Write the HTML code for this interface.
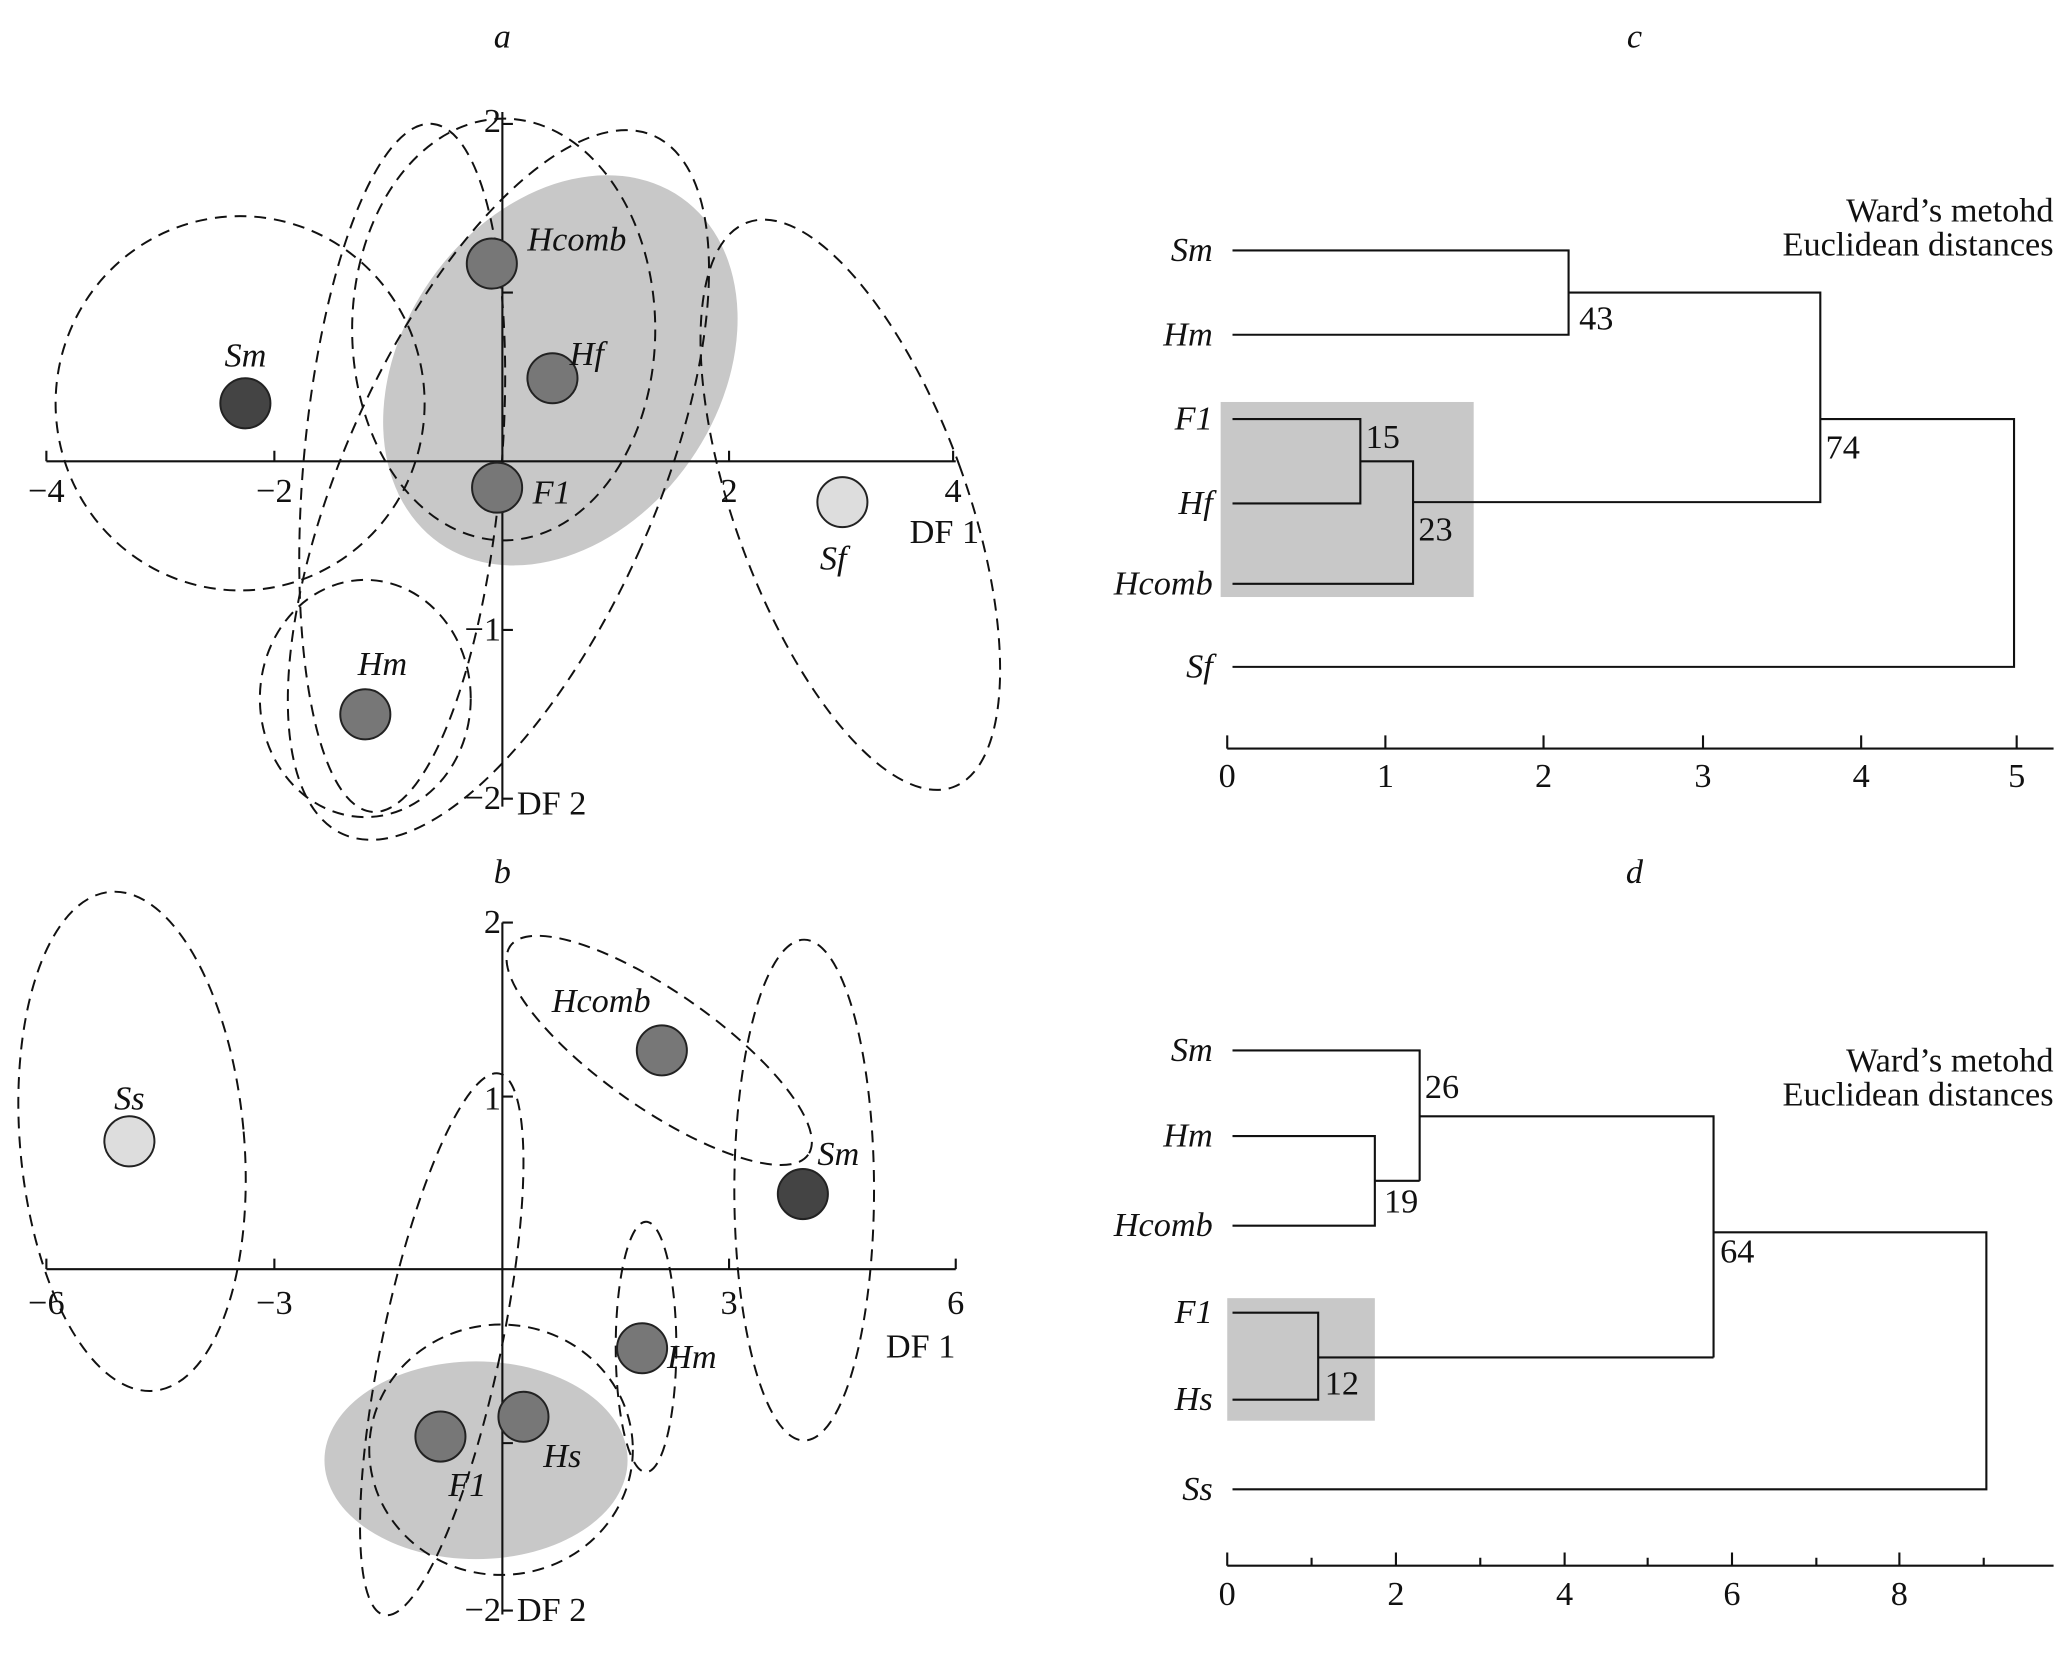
<!DOCTYPE html>
<html><head><meta charset="utf-8"><style>
html,body{margin:0;padding:0;background:#fff;}
svg{display:block;}
text{font-family:"Liberation Serif",serif;fill:#111;}
.i{font-style:italic;}
</style></head><body>
<svg width="2067" height="1654" viewBox="0 0 1568 1255" xmlns="http://www.w3.org/2000/svg">
<g fill="none" stroke="#111" stroke-width="1.6">
<!-- panel a -->
<ellipse cx="425" cy="281" rx="120" ry="160" transform="rotate(35 425 281)" fill="#c8c8c8" stroke="none"/>
<g stroke-dasharray="9,6" stroke-width="1.5">
<ellipse cx="182" cy="306" rx="140" ry="142"/>
<ellipse cx="277" cy="530" rx="80" ry="90"/>
<ellipse cx="645" cy="383" rx="88" ry="228" transform="rotate(-20 645 383)"/>
<ellipse cx="382" cy="250" rx="115" ry="160"/>
<ellipse cx="378" cy="368" rx="118" ry="290" transform="rotate(24 378 368)"/>
<ellipse cx="305" cy="355" rx="75" ry="262" transform="rotate(5 305 355)"/>
</g>
<line x1="35" y1="350" x2="725" y2="350"/>
<line x1="381" y1="85" x2="381" y2="612"/>
<path d="M35 350v-8M208 350v-8M553 350v-8M723 350v-8M381 94h8M381 222h8M381 478h8M381 606h8"/>
</g>
<g stroke="#222" stroke-width="1.5">
<circle cx="373" cy="200" r="19" fill="#777"/>
<circle cx="419" cy="287" r="19" fill="#777"/>
<circle cx="377" cy="370" r="19" fill="#777"/>
<circle cx="186" cy="306" r="19" fill="#444"/>
<circle cx="639" cy="381" r="19" fill="#ddd"/>
<circle cx="277" cy="542" r="19" fill="#777"/>
</g>
<g font-size="26">
<text x="381" y="36" class="i" text-anchor="middle">a</text>
<text x="35" y="381" text-anchor="middle">−4</text>
<text x="208" y="381" text-anchor="middle">−2</text>
<text x="553" y="381" text-anchor="middle">2</text>
<text x="723" y="381" text-anchor="middle">4</text>
<text x="380" y="100" text-anchor="end">2</text>
<text x="380" y="486" text-anchor="end">−1</text>
<text x="380" y="614" text-anchor="end">−2</text>
<text x="392" y="618">DF 2</text>
<text x="690" y="412">DF 1</text>
<text x="400" y="190" class="i">Hcomb</text>
<text x="432" y="277" class="i">Hf</text>
<text x="404" y="382" class="i">F1</text>
<text x="186" y="278" class="i" text-anchor="middle">Sm</text>
<text x="632" y="432" class="i" text-anchor="middle">Sf</text>
<text x="290" y="512" class="i" text-anchor="middle">Hm</text>
</g>

<!-- panel b -->
<g fill="none" stroke="#111" stroke-width="1.6">
<ellipse cx="361" cy="1108" rx="115" ry="75" fill="#c8c8c8" stroke="none"/>
<g stroke-dasharray="9,6" stroke-width="1.5">
<ellipse cx="100" cy="866" rx="85" ry="190" transform="rotate(-5 100 866)"/>
<ellipse cx="500" cy="797" rx="138" ry="44" transform="rotate(35 500 797)"/>
<ellipse cx="610" cy="903" rx="53" ry="190"/>
<ellipse cx="490" cy="1022" rx="23" ry="95"/>
<ellipse cx="335" cy="1020" rx="45" ry="210" transform="rotate(12 335 1020)"/>
<ellipse cx="380" cy="1100" rx="100" ry="95"/>
</g>
<line x1="35" y1="963" x2="725" y2="963"/>
<line x1="381" y1="700" x2="381" y2="1225"/>
<path d="M35 963v-8M208 963v-8M553 963v-8M725 963v-8M381 700h8M381 832h8M381 1095h8M381 1222h8"/>
</g>
<g stroke="#222" stroke-width="1.5">
<circle cx="98" cy="866" r="19" fill="#ddd"/>
<circle cx="502" cy="797" r="19" fill="#777"/>
<circle cx="609" cy="906" r="19" fill="#444"/>
<circle cx="487" cy="1023" r="19" fill="#777"/>
<circle cx="397" cy="1075" r="19" fill="#777"/>
<circle cx="334" cy="1090" r="19" fill="#777"/>
</g>
<g font-size="26">
<text x="381" y="670" class="i" text-anchor="middle">b</text>
<text x="35" y="997" text-anchor="middle">−6</text>
<text x="208" y="997" text-anchor="middle">−3</text>
<text x="553" y="997" text-anchor="middle">3</text>
<text x="725" y="997" text-anchor="middle">6</text>
<text x="380" y="708" text-anchor="end">2</text>
<text x="380" y="842" text-anchor="end">1</text>
<text x="380" y="1230" text-anchor="end">−2</text>
<text x="392" y="1230">DF 2</text>
<text x="672" y="1030">DF 1</text>
<text x="456" y="768" class="i" text-anchor="middle">Hcomb</text>
<text x="620" y="884" class="i">Sm</text>
<text x="506" y="1038" class="i">Hm</text>
<text x="412" y="1113" class="i">Hs</text>
<text x="340" y="1135" class="i">F1</text>
<text x="98" y="842" class="i" text-anchor="middle">Ss</text>
</g>

<!-- panel c -->
<rect x="926" y="305" width="192" height="148" fill="#c8c8c8"/>
<g fill="none" stroke="#111" stroke-width="1.6">
<path d="M935 190H1190V254H935M935 318H1032V382H935M1032 350H1072V443H935M1072 381H1381V222H1190M1381 318H1528V506H935"/>
<line x1="931" y1="568" x2="1558" y2="568"/>
<path d="M931 568v-10M1051 568v-10M1171 568v-10M1292 568v-10M1412 568v-10M1530 568v-10"/>
</g>
<g font-size="26">
<text x="1240" y="36" class="i" text-anchor="middle">c</text>
<text x="1558" y="168" text-anchor="end">Ward’s metohd</text>
<text x="1558" y="194" text-anchor="end">Euclidean distances</text>
<text x="920" y="198" class="i" text-anchor="end">Sm</text>
<text x="920" y="262" class="i" text-anchor="end">Hm</text>
<text x="920" y="326" class="i" text-anchor="end">F1</text>
<text x="920" y="390" class="i" text-anchor="end">Hf</text>
<text x="920" y="451" class="i" text-anchor="end">Hcomb</text>
<text x="920" y="514" class="i" text-anchor="end">Sf</text>
<text x="1198" y="250">43</text>
<text x="1036" y="340">15</text>
<text x="1076" y="410">23</text>
<text x="1385" y="348">74</text>
<text x="931" y="597" text-anchor="middle">0</text>
<text x="1051" y="597" text-anchor="middle">1</text>
<text x="1171" y="597" text-anchor="middle">2</text>
<text x="1292" y="597" text-anchor="middle">3</text>
<text x="1412" y="597" text-anchor="middle">4</text>
<text x="1530" y="597" text-anchor="middle">5</text>
</g>

<!-- panel d -->
<rect x="931" y="985" width="112" height="93" fill="#c8c8c8"/>
<g fill="none" stroke="#111" stroke-width="1.6">
<path d="M935 797H1077V896M935 862H1043V930H935M1043 896H1077M1077 847H1300V1030M935 996H1000V1062H935M1000 1030H1300M1300 935H1507V1130H935"/>
<line x1="931" y1="1188" x2="1558" y2="1188"/>
<path d="M931 1188v-10M1059 1188v-10M1187 1188v-10M1314 1188v-10M1441 1188v-10M995 1188v-6M1123 1188v-6M1250 1188v-6M1378 1188v-6M1505 1188v-6"/>
</g>
<g font-size="26">
<text x="1240" y="670" class="i" text-anchor="middle">d</text>
<text x="1558" y="813" text-anchor="end">Ward’s metohd</text>
<text x="1558" y="839" text-anchor="end">Euclidean distances</text>
<text x="920" y="805" class="i" text-anchor="end">Sm</text>
<text x="920" y="870" class="i" text-anchor="end">Hm</text>
<text x="920" y="938" class="i" text-anchor="end">Hcomb</text>
<text x="920" y="1004" class="i" text-anchor="end">F1</text>
<text x="920" y="1070" class="i" text-anchor="end">Hs</text>
<text x="920" y="1138" class="i" text-anchor="end">Ss</text>
<text x="1081" y="833">26</text>
<text x="1050" y="920">19</text>
<text x="1005" y="1058">12</text>
<text x="1305" y="958">64</text>
<text x="931" y="1218" text-anchor="middle">0</text>
<text x="1059" y="1218" text-anchor="middle">2</text>
<text x="1187" y="1218" text-anchor="middle">4</text>
<text x="1314" y="1218" text-anchor="middle">6</text>
<text x="1441" y="1218" text-anchor="middle">8</text>
</g>
</svg>
</body></html>
